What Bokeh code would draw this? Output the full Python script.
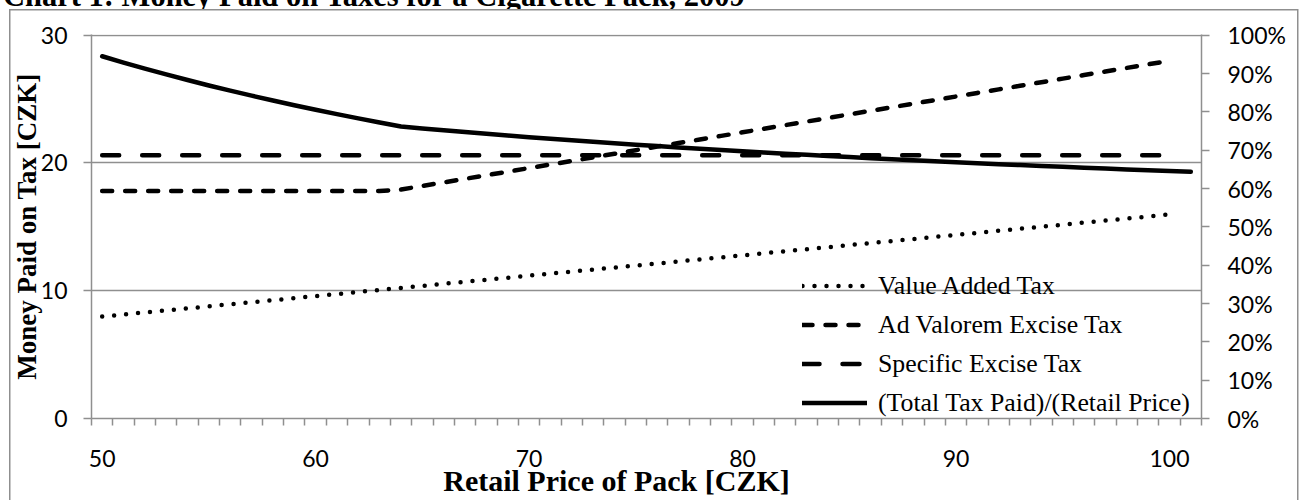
from bokeh.plotting import figure
from bokeh.models import (Range1d, LinearAxis, FixedTicker, PrintfTickFormatter,
                          Legend, LegendItem, Div)
from bokeh.layouts import column
from bokeh.embed import file_html
from bokeh.resources import INLINE

# ---------------- data ----------------
price = list(range(50, 101))
price_total = list(range(50, 102))

vat = [7.98, 8.14, 8.30, 8.46, 8.62, 8.78, 8.94, 9.10, 9.26, 9.42,
       9.58, 9.74, 9.90, 10.06, 10.22, 10.38, 10.54, 10.70, 10.86, 11.02,
       11.18, 11.34, 11.50, 11.66, 11.81, 11.97, 12.13, 12.29, 12.45, 12.61,
       12.77, 12.93, 13.09, 13.25, 13.41, 13.57, 13.73, 13.89, 14.05, 14.21,
       14.37, 14.53, 14.69, 14.85, 15.01, 15.17, 15.33, 15.49, 15.65, 15.81,
       15.97]

ad_valorem = [17.8, 17.8, 17.8, 17.8, 17.8, 17.8, 17.8, 17.8, 17.8, 17.8,
              17.8, 17.8, 17.8, 17.8, 17.92, 18.20, 18.48, 18.76, 19.04, 19.32,
              19.60, 19.88, 20.16, 20.44, 20.72, 21.00, 21.28, 21.56, 21.84, 22.12,
              22.40, 22.68, 22.96, 23.24, 23.52, 23.80, 24.08, 24.36, 24.64, 24.92,
              25.20, 25.48, 25.76, 26.04, 26.32, 26.60, 26.88, 27.16, 27.44, 27.72,
              28.00]

specific = [20.6, 20.6, 20.6, 20.6, 20.6, 20.6, 20.6, 20.6, 20.6, 20.6,
            20.6, 20.6, 20.6, 20.6, 20.6, 20.6, 20.6, 20.6, 20.6, 20.6,
            20.6, 20.6, 20.6, 20.6, 20.6, 20.6, 20.6, 20.6, 20.6, 20.6,
            20.6, 20.6, 20.6, 20.6, 20.6, 20.6, 20.6, 20.6, 20.6, 20.6,
            20.6, 20.6, 20.6, 20.6, 20.6, 20.6, 20.6, 20.6, 20.6, 20.6,
            20.6]

total_share = [94.5, 92.86, 91.28, 89.76, 88.30, 86.89, 85.54, 84.23, 82.96, 81.74,
               80.56, 79.41, 78.31, 77.24, 76.20, 75.66, 75.18, 74.72, 74.26, 73.83,
               73.40, 72.98, 72.58, 72.19, 71.81, 71.44, 71.08, 70.72, 70.38, 70.05,
               69.72, 69.40, 69.09, 68.79, 68.49, 68.21, 67.92, 67.65, 67.38, 67.12,
               66.86, 66.61, 66.36, 66.12, 65.88, 65.65, 65.43, 65.21, 64.99, 64.78,
               64.57, 64.37]

x_tick_labels = [50, 60, 70, 80, 90, 100]
left_ticks = [0, 10, 20, 30]
right_ticks = [0, 10, 20, 30, 40, 50, 60, 70, 80, 90, 100]

series_names = ["Value Added Tax", "Ad Valorem Excise Tax",
                "Specific Excise Tax", "(Total Tax Paid)/(Retail Price)"]

title_text = "Chart 1: Money Paid on Taxes for a Cigarette Pack, 2009"
x_title = "Retail Price of Pack [CZK]"
y_title = "Money Paid on Tax [CZK]"

# ---------------- layout ----------------
W = 1301
TITLE_H = 9                      # strip above the chart holding the (cut) title
H = 500 - TITLE_H
# frame edges in page px
PFL, PFR, PFT, PFB = 91, 1201, 34, 418
FL, FR, FT, FB = PFL, PFR, PFT - TITLE_H, PFB - TITLE_H

X0, X1 = 49.5, 101.5
PX_PER_Y = (418 - 34.7) / 30.0
Y1 = (FB - FT) / PX_PER_Y        # slightly above 30 so the 30 line is drawn
R1 = Y1 / 30.0 * 100.0

GRAY = "#8f8f8f"
TICK_FONT = "Lato"
TICK_SIZE = "23px"

title_div = Div(text='<div style="position:relative; top:-19px; left:3px;">'
                     + title_text + '</div>',
                width=W, height=TITLE_H,
                styles={"overflow": "hidden", "font-family": "Liberation Serif",
                        "font-weight": "bold", "font-size": "30.5px",
                        "line-height": "31px", "white-space": "nowrap",
                        "color": "black", "margin": "0", "padding": "0"})

p = figure(width=W, height=H, x_range=Range1d(X0, X1), y_range=Range1d(0, Y1),
           output_backend="svg", toolbar_location=None,
           min_border_left=FL, min_border_right=W - FR,
           min_border_top=FT, min_border_bottom=H - FB)
p.outline_line_color = None
p.background_fill_color = "white"
p.border_fill_alpha = 0
# outer chart border (drawn behind the transparent canvas border area)
p.styles = {
    "background-color": "white",
    "background-image": ("linear-gradient(%s, %s), linear-gradient(%s, %s), "
                         "linear-gradient(%s, %s)") % ((GRAY,) * 6),
    "background-size": "1.5px 700px, 1.5px 700px, 1289px 1.5px",
    "background-position": "8.5px 0px, 1297px 0px, 8.5px 0px",
    "background-repeat": "no-repeat",
}
p.extra_y_ranges = {"pct": Range1d(0, R1)}

# x axis
xa = p.xaxis[0]
xa.ticker = FixedTicker(ticks=x_tick_labels,
                        minor_ticks=[X0 + i for i in range(int(X1 - X0) + 1)])
xa.major_tick_out = 0
xa.major_tick_in = 0
xa.minor_tick_out = 7
xa.minor_tick_in = 0
xa.axis_line_color = GRAY
xa.axis_line_width = 1.5
xa.minor_tick_line_color = GRAY
xa.minor_tick_line_width = 1.5
xa.major_label_text_font = TICK_FONT
xa.major_label_text_font_size = TICK_SIZE
xa.major_label_text_color = "black"
xa.major_label_standoff = 24
xa.axis_label = x_title + "\u00a0" * 8
xa.axis_label_text_font = "Liberation Serif"
xa.axis_label_text_font_style = "bold"
xa.axis_label_text_font_size = "30px"
xa.axis_label_text_color = "black"
xa.axis_label_standoff = -6

# left y axis
ya = p.yaxis[0]
ya.ticker = FixedTicker(ticks=left_ticks)
ya.major_tick_out = 8
ya.major_tick_in = 0
ya.minor_tick_line_color = None
ya.axis_line_color = GRAY
ya.axis_line_width = 1.5
ya.major_tick_line_color = GRAY
ya.major_tick_line_width = 1.5
ya.major_label_text_font = TICK_FONT
ya.major_label_text_font_size = TICK_SIZE
ya.major_label_text_color = "black"
ya.major_label_standoff = 16
ya.axis_label = y_title
ya.axis_label_text_font = "Liberation Serif"
ya.axis_label_text_font_style = "bold"
ya.axis_label_text_font_size = "27px"
ya.axis_label_text_color = "black"
ya.axis_label_standoff = -4

# right y axis
ra = LinearAxis(y_range_name="pct", ticker=FixedTicker(ticks=right_ticks),
                formatter=PrintfTickFormatter(format="%d%%"))
ra.major_tick_out = 8
ra.major_tick_in = 0
ra.minor_tick_line_color = None
ra.axis_line_color = GRAY
ra.axis_line_width = 1.5
ra.major_tick_line_color = GRAY
ra.major_tick_line_width = 1.5
ra.major_label_text_font = TICK_FONT
ra.major_label_text_font_size = TICK_SIZE
ra.major_label_text_color = "black"
ra.major_label_standoff = 18
p.add_layout(ra, "right")

# grid
p.xgrid.visible = False
p.ygrid.ticker = FixedTicker(ticks=left_ticks[1:])
p.ygrid.grid_line_color = GRAY
p.ygrid.grid_line_width = 1.5

# series
LW = 4.5
r_vat = p.line(price, vat, line_color="black", line_width=LW,
               line_dash="0 12", line_cap="round", line_join="round")
r_adv = p.line(price, ad_valorem, line_color="black", line_width=LW,
               line_dash="10 13", line_cap="round", line_join="round")
r_spec = p.line(price, specific, line_color="black", line_width=LW,
                line_dash="17 23", line_cap="round", line_join="round")
r_tot = p.line(price_total, total_share, y_range_name="pct", line_color="black",
               line_width=LW, line_cap="round", line_join="round")

legend = Legend(items=[LegendItem(label=series_names[0], renderers=[r_vat]),
                       LegendItem(label=series_names[1], renderers=[r_adv]),
                       LegendItem(label=series_names[2], renderers=[r_spec]),
                       LegendItem(label=series_names[3], renderers=[r_tot])],
                location=(711, -4), orientation="vertical",
                glyph_width=65, glyph_height=39, label_height=39,
                spacing=0, padding=0, margin=0, label_standoff=11,
                background_fill_alpha=0, border_line_color=None,
                label_text_font="Liberation Serif", label_text_font_size="25.8px",
                label_text_color="black")
p.add_layout(legend)

layout = column(title_div, p, spacing=0)
open("out.html", "w").write(file_html(layout, INLINE))
